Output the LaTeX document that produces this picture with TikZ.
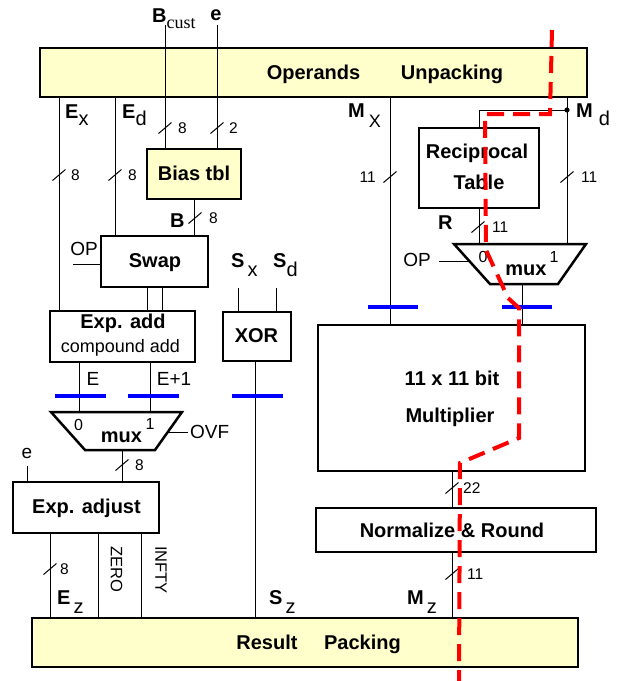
\documentclass[tikz,border=0pt]{standalone}
\usepackage{fontspec}
\setmainfont{Liberation Sans}
\newfontfamily\serifcust{Liberation Serif}
\definecolor{ylw}{RGB}{255,255,204}
\tikzset{
  blk/.style={draw, line width=2.5pt, inner sep=0pt},
  yel/.style={fill=ylw},
  wire/.style={line width=1pt},
  bar/.style={line width=4pt, blue},
  redpath/.style={line width=4pt, red, dash pattern=on 17pt off 9pt},
  btxt/.style={font=\bfseries\fontsize{20}{23}\selectfont, inner sep=0pt},
  rtxt/.style={font=\fontsize{19}{21}\selectfont, inner sep=0pt},
  ntxt/.style={font=\fontsize{15.5}{17}\selectfont, inner sep=0pt},
}
\newcommand\bustick[5]{%
  \draw[wire] (#2-6.5,#3+5.5) -- (#2+6.5,#3-5.5);
  \node[ntxt, anchor=west] (#1) at (#4,#3) {#5};}
\newcommand\lowr[2]{\raisebox{-#1pt}{\mdseries #2}}
\begin{document}
\begin{tikzpicture}[x=1pt,y=-1pt]
\useasboundingbox (0,0) rectangle (623,681);

% ---------- boxes ----------
\node[blk,yel,minimum width=547pt,minimum height=49pt] (unpack) at (313.5,72.5) {};
\node[blk,yel,minimum width=546pt,minimum height=49pt] (result) at (305,642.5) {};
\node[blk,yel,minimum width=94pt,minimum height=50pt] (bias) at (194,174) {};
\node[blk,minimum width=107pt,minimum height=51pt] (swap) at (154.5,261.5) {};
\node[blk,minimum width=145pt,minimum height=51pt] (expadd) at (122.5,336.5) {};
\node[blk,minimum width=68pt,minimum height=49pt] (xor) at (257,336.5) {};
\node[blk,minimum width=146pt,minimum height=51pt] (expadj) at (86,507.5) {};
\node[blk,minimum width=120pt,minimum height=80pt] (recip) at (479,168) {};
\node[blk,minimum width=267pt,minimum height=146pt] (mult) at (451.5,398) {};
\node[blk,minimum width=280pt,minimum height=44pt] (norm) at (456,530) {};

% muxes
\coordinate (mlA) at (51,412); \coordinate (mlB) at (182,412);
\coordinate (mlC) at (155,450); \coordinate (mlD) at (85,450);
\draw[line width=2.5pt, line join=miter] (mlA) -- (mlB) -- (mlC) -- (mlD) -- cycle;
\coordinate (mrA) at (454,244); \coordinate (mrB) at (586,244);
\coordinate (mrC) at (558,284); \coordinate (mrD) at (490,284);
\draw[line width=2.5pt, line join=miter] (mrA) -- (mrB) -- (mrC) -- (mrD) -- cycle;

% ---------- box texts ----------
\node[btxt, anchor=base] (tOper) at (313.5,79.5) {Operands};
\node[btxt, anchor=base] (tUnp) at (452,79.5) {Unpacking};
\node[btxt, anchor=base] (tRes) at (267,649) {Result};
\node[btxt, anchor=base] (tPack) at (362.5,649) {Packing};
\node[btxt, anchor=base] (tBias) at (194,180) {Bias tbl};
\node[btxt, anchor=base] (tSwap) at (155,267) {Swap};
\node[btxt, anchor=base] (tExpAdd) at (123,328) {Exp. add};
\node[rtxt, anchor=base, font=\fontsize{18}{20}\selectfont] (tComp) at (120.5,352) {compound add};
\node[btxt, anchor=base] (tXor) at (256.5,342) {XOR};
\node[btxt, anchor=base] (tExpAdj) at (86.5,513) {Exp. adjust};
\node[btxt, anchor=base] (tRec1) at (477,158) {Reciprocal};
\node[btxt, anchor=base] (tRec2) at (479,189) {Table};
\node[btxt, anchor=base] (tMul1) at (452,385) {11 x 11 bit};
\node[btxt, anchor=base] (tMul2) at (450,422) {Multiplier};
\node[btxt, anchor=base] (tNorm) at (452,537) {Normalize \& Round};
\node[btxt, anchor=base] (tMuxL) at (121.5,442) {mux};
\node[btxt, anchor=base] (tMuxR) at (526,275) {mux};
\node[ntxt, font=\fontsize{16}{18}\selectfont] (ml0) at (78.5,424.5) {0};
\node[ntxt, font=\fontsize{16}{18}\selectfont] (ml1) at (150,423.5) {1};
\node[ntxt, font=\fontsize{16}{18}\selectfont] (mr0) at (483,256.5) {0};
\node[ntxt, font=\fontsize{16}{18}\selectfont] (mr1) at (554,257) {1};

% ---------- wires ----------
\coordinate (bcTop) at (165,25);
\coordinate (eTop) at (217,25);
\draw[wire] (bcTop) -- (bcTop |- bias.north);
\draw[wire] (eTop) -- (eTop |- bias.north);
\coordinate (xEx) at (59,0); \coordinate (xEd) at (115,0);
\draw[wire] (unpack.south -| xEx) -- (expadd.north -| xEx);
\draw[wire] (unpack.south -| xEd) -- (swap.north -| xEd);
\draw[wire] (bias.south) -- (bias.south |- swap.north);
\coordinate (opL) at (73,264);
\draw[wire] (opL) -- (opL -| swap.west);
\coordinate (xS1) at (147,0); \coordinate (xS2) at (162,0);
\draw[wire] (swap.south -| xS1) -- (expadd.north -| xS1);
\draw[wire] (swap.south -| xS2) -- (expadd.north -| xS2);
\coordinate (xE) at (79,0); \coordinate (xE1) at (150,0);
\draw[wire] (expadd.south -| xE) -- (xE |- mlA);
\draw[wire] (expadd.south -| xE1) -- (xE1 |- mlA);
\coordinate (ovfA) at (167,432); \coordinate (ovfB) at (188,432);
\draw[wire] (ovfA) -- (ovfB);
\coordinate (mlOut) at (122,450);
\draw[wire] (mlOut) -- (mlOut |- expadj.north);
\coordinate (eAdj) at (27,466);
\draw[wire] (eAdj) -- (eAdj |- expadj.north);
\coordinate (xEz) at (50,0); \coordinate (xZe) at (98,0); \coordinate (xIn) at (141,0);
\draw[wire] (expadj.south -| xEz) -- (result.north -| xEz);
\draw[wire] (expadj.south -| xZe) -- (result.north -| xZe);
\draw[wire] (expadj.south -| xIn) -- (result.north -| xIn);
\coordinate (sxTop) at (238,288); \coordinate (sdTop) at (276,288);
\draw[wire] (sxTop) -- (sxTop |- xor.north);
\draw[wire] (sdTop) -- (sdTop |- xor.north);
\coordinate (xSz) at (255,0);
\draw[wire] (xor.south -| xSz) -- (result.north -| xSz);
\coordinate (xMx) at (390,0); \coordinate (xMd) at (567,0);
\draw[wire] (unpack.south -| xMx) -- (mult.north -| xMx);
\draw[wire] (unpack.south -| xMd) -- (xMd |- mrA);
\coordinate (mdDot) at (567,110);
\draw[wire] (mdDot) -- (mdDot -| recip.north) -- (recip.north);
\fill (mdDot) circle (2.6pt);
\draw[wire] (recip.south) -- (recip.south |- mrA);
\coordinate (opR) at (439,261); \coordinate (opRe) at (469,261);
\draw[wire] (opR) -- (opRe);
\coordinate (mrOut) at (522,284);
\draw[wire] (mrOut) -- (mrOut |- mult.north);
\coordinate (xMz) at (452,0);
\draw[wire] (mult.south -| xMz) -- (norm.north -| xMz);
\draw[wire] (norm.south -| xMz) -- (result.north -| xMz);

% ---------- blue bars ----------
\coordinate (b1a) at (55,396); \coordinate (b1b) at (106,396);
\coordinate (b2a) at (128,396); \coordinate (b2b) at (179,396);
\coordinate (b3a) at (232,396); \coordinate (b3b) at (283,396);
\coordinate (b4a) at (368,307); \coordinate (b4b) at (418,307);
\coordinate (b5a) at (502,307); \coordinate (b5b) at (552,307);
\draw[bar] (b1a) -- (b1b);
\draw[bar] (b2a) -- (b2b);
\draw[bar] (b3a) -- (b3b);
\draw[bar] (b4a) -- (b4b);
\draw[bar] (b5a) -- (b5b);

% ---------- bus ticks ----------
\bustick{n1}{165}{128}{178}{8}
\bustick{n2}{217}{128}{229}{2}
\bustick{n3}{59}{175}{71}{8}
\bustick{n4}{115}{175}{128}{8}
\bustick{n5}{195}{218}{209}{8}
\draw[wire] (390-6.5,177+5.5) -- (390+6.5,177-5.5);
\node[ntxt, anchor=east] (n6) at (376,177) {11};
\bustick{n7}{567}{177}{581}{11}
\bustick{n8}{478}{227}{492}{11}
\bustick{n9}{122}{465}{135}{8}
\bustick{n10}{50}{569}{60}{8}
\bustick{n11}{452}{488}{463}{22}
\bustick{n12}{452}{574}{467}{11}

% ---------- signal labels ----------
\node[btxt, anchor=base west] (lBc) at (152,22) {B\raisebox{-6pt}{\mdseries\serifcust\fontsize{18}{20}\selectfont cust}};
\node[btxt, anchor=base] (le) at (216,20) {e};
\node[btxt, anchor=base west] (lEx) at (65,118) {E\lowr{7}{x}};
\node[btxt, anchor=base west] (lEd) at (122,118) {E\lowr{7}{d}};
\node[btxt, anchor=base west] (lB) at (170,227) {B};
\node[btxt, anchor=base west] (lR) at (438,229) {R};
\node[btxt, anchor=base west] (lMx) at (348,117) {M\hspace{4pt}\lowr{10}{\fontsize{18}{20}\selectfont X}};
\node[btxt, anchor=base west] (lMd) at (576,117) {M\hspace{6pt}\lowr{8}{d}};
\node[btxt, anchor=base west] (lSx) at (231,267) {S\hspace{3pt}\lowr{9}{x}};
\node[btxt, anchor=base west] (lSd) at (273,267) {S\lowr{9}{d}};
\node[btxt, anchor=base west] (lSz) at (269,604) {S\hspace{3pt}\lowr{9}{z}};
\node[btxt, anchor=base west] (lMz) at (407,604) {M\hspace{3pt}\lowr{9}{z}};
\node[btxt, anchor=base west] (lEz) at (57,604) {E\hspace{3pt}\lowr{9}{z}};
\node[rtxt] (lOPl) at (84,249) {OP};
\node[rtxt] (lOPr) at (417,260) {OP};
\node[rtxt] (lE) at (93,379) {E};
\node[rtxt] (lE1) at (174,379) {E+1};
\node[rtxt, anchor=west] (lOvf) at (190,432) {OVF};
\node[rtxt] (leAdj) at (27,453) {e};
\node[rtxt, font=\fontsize{16.5}{18}\selectfont, rotate=-90] (lZero) at (116.5,569) {ZERO};
\node[rtxt, font=\fontsize{16.5}{18}\selectfont, rotate=-90] (lInf) at (161,570) {INFTY};

% ---------- red dashed path ----------
\coordinate (r1) at (552,30); \coordinate (r2) at (550,114);
\coordinate (r3) at (485,114); \coordinate (r4) at (486,250);
\coordinate (r5) at (508,298); \coordinate (r6) at (519,308);
\coordinate (r7) at (519,438); \coordinate (r8) at (460,463);
\coordinate (r9) at (459,681);
\draw[redpath] (r1) -- (r2) -- (r3) -- (r4) -- (r5) -- (r6) -- (r7) -- (r8) -- (r9);
\end{tikzpicture}
\end{document}
